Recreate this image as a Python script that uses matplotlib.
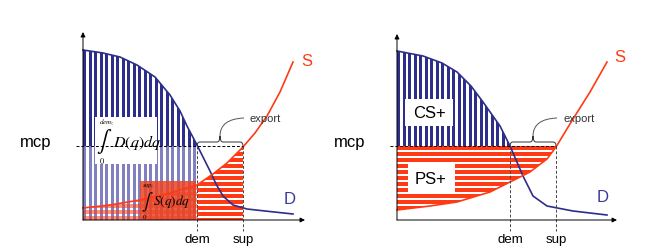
import numpy as np
import matplotlib.pyplot as plt
from matplotlib.patches import Polygon, Rectangle, PathPatch
from matplotlib.path import Path

plt.rcParams['font.family'] = ['Liberation Sans', 'DejaVu Sans']
plt.rcParams['mathtext.fontset'] = 'stix'

NAVY = '#2D2D8C'
LIGHT = '#8080C2'
RED = '#FF3A14'

# curves (offsets from each panel's origin)
l_dq = np.array([0, 20, 37, 54, 72, 87, 97, 104, 114, 121, 127, 133, 140, 150, 164, 182, 210])
l_dp = np.array([170, 167, 163, 155, 143, 125, 109, 94, 75, 61, 49, 36, 24, 15, 11, 9, 6])
l_sq = np.array([0, 27, 57, 87, 114, 130, 144, 160, 172, 184, 197, 210])
l_sp = np.array([12, 15, 20, 27, 35, 46, 57, 73, 87, 104, 128, 158])
l_mcp, l_dem, l_sup = 74, 114, 160

r_dq = np.array([0, 26, 45, 60, 74, 86, 103, 113, 126, 136, 150, 176, 210])
r_dp = np.array([169, 164, 157, 148, 134, 118, 94, 74, 44, 24, 14, 9, 5])
r_sq = np.array([0, 33, 60, 93, 113, 133, 150, 159, 176, 193, 210])
r_sp = np.array([10, 14, 18, 28, 38, 48, 61, 73, 101, 128, 158])
r_mcp, r_dem, r_sup = 74, 113, 159


def region(ax, q, p, x0, x1, base):
    xs = np.concatenate([[x0], q[(q > x0) & (q < x1)], [x1]])
    ys = np.interp(xs, q, p)
    verts = list(zip(xs, ys)) + [(x1, base), (x0, base)]
    return Polygon(verts, closed=True, transform=ax.transData)


def vstripes(ax, clip, x0, x1, color, alpha=1.0):
    xs = np.arange(x0, x1, 5.5)
    bars = ax.bar(xs, 200, bottom=-5, width=3.4, align='edge', color=color,
                  alpha=alpha, linewidth=0)
    for b in bars:
        b.set_clip_path(clip)


def hstripes(ax, clip, x0, x1, top, color, alpha=1.0):
    ys = np.arange(top, -5, -6.0) - 4.0
    bars = ax.barh(ys, x1 - x0, left=x0, height=4.0, align='edge', color=color,
                   alpha=alpha, linewidth=0)
    for b in bars:
        b.set_clip_path(clip)


def brace(ax, x0, x1, y, tx):
    xm = (x0 + x1) / 2
    verts = [(x0, y), (x0, y + 4), (x0 + 3, y + 4), (xm - 3, y + 4), (xm, y + 4), (xm, y + 10),
             (xm, y + 4), (xm + 3, y + 4), (x1 - 3, y + 4), (x1, y + 4), (x1, y)]
    codes = [Path.MOVETO, Path.CURVE3, Path.CURVE3, Path.LINETO, Path.CURVE3, Path.CURVE3,
             Path.CURVE3, Path.CURVE3, Path.LINETO, Path.CURVE3, Path.CURVE3]
    ax.add_patch(PathPatch(Path(verts, codes), fill=False, lw=0.7, ec='#333333'))
    lead = [(xm, y + 10), (xm, y + 27), (tx - 6, y + 28)]
    ax.add_patch(PathPatch(Path(lead, [Path.MOVETO, Path.CURVE3, Path.CURVE3]),
                           fill=False, lw=0.7, ec='#555555'))
    ax.text(tx, y + 28, 'export', fontsize=8, color='#333333', va='center', ha='left')


def frame(ax, xend, yend, mcp, dem, sup):
    ax.annotate('', xy=(xend, 0), xytext=(0, 0),
                arrowprops=dict(arrowstyle='-|>', lw=0.7, color='black',
                                mutation_scale=7, shrinkA=0, shrinkB=0))
    ax.annotate('', xy=(0, yend), xytext=(0, 0),
                arrowprops=dict(arrowstyle='-|>', lw=0.7, color='black',
                                mutation_scale=7, shrinkA=0, shrinkB=0))
    ax.plot([-7, sup], [mcp, mcp], ls=(0, (3, 2)), lw=0.7, color='black')
    ax.plot([dem, dem], [mcp, -11], ls=(0, (3, 2)), lw=0.7, color='#444444')
    ax.plot([sup, sup], [mcp, -11], ls=(0, (3, 2)), lw=0.7, color='#444444')
    ax.text(-47, mcp + 4, 'mcp', fontsize=12, ha='center', va='center')
    ax.text(dem, -19, 'dem', fontsize=9.5, ha='center', va='center')
    ax.text(sup, -19, 'sup', fontsize=9.5, ha='center', va='center')


fig = plt.figure(figsize=(6.57, 2.53), dpi=100)

# ---- left panel
ax = fig.add_axes([0, 0, 0.5, 1])
ax.set_xlim(-83, 245.5)
ax.set_ylim(-32, 221)
ax.axis('off')

clip = Rectangle((0, 0), l_dem, l_mcp, transform=ax.transData)
vstripes(ax, clip, 0, l_dem, LIGHT)
vstripes(ax, region(ax, l_dq, l_dp, 0, l_dem, l_mcp), 0, l_dem, NAVY)
hstripes(ax, region(ax, l_sq, l_sp, 0, l_dem, 0), 0, l_dem, 40, RED, alpha=0.55)
hstripes(ax, region(ax, l_sq, l_sp, l_dem, l_sup, 0), l_dem, l_sup, 80, RED)
ax.add_patch(Rectangle((57, 0), 56, 39, color='#EC4424', alpha=0.85, lw=0))
ax.add_patch(Rectangle((12, 56), 62, 47, color='white', lw=0))

ax.text(21, 79, r'$\int$', fontsize=16, ha='center', va='center')
ax.text(24, 98, r'$dem_z$', fontsize=5, ha='center', va='center')
ax.text(19, 60, r'$0$', fontsize=6, ha='center', va='center')
ax.text(30, 78, r'$D(q)dq$', fontsize=11.5, ha='left', va='center')
ax.text(64, 19, r'$\int$', fontsize=12, ha='center', va='center')
ax.text(65, 35, r'$sup_z$', fontsize=4.5, ha='center', va='center')
ax.text(62, 4, r'$0$', fontsize=5, ha='center', va='center')
ax.text(70, 19, r'$S(q)dq$', fontsize=9.5, ha='left', va='center')

ax.plot(l_dq, l_dp, color=NAVY, lw=1.2)
ax.plot(l_sq, l_sp, color=RED, lw=1.2)
frame(ax, 222, 188, l_mcp, l_dem, l_sup)
brace(ax, l_dem, l_sup, l_mcp, 167)
ax.text(224, 160, 'S', fontsize=12, color=RED, ha='center', va='center')
ax.text(207, 22, 'D', fontsize=12, color='#3A3A9A', ha='center', va='center')

# ---- right panel
ax = fig.add_axes([0.5, 0, 0.5, 1])
ax.set_xlim(-68.5, 260)
ax.set_ylim(-32, 221)
ax.axis('off')

vstripes(ax, region(ax, r_dq, r_dp, 0, r_dem, r_mcp), 0, r_dem, NAVY)
hstripes(ax, region(ax, r_sq, r_sp, 0, r_sup, r_mcp), 0, r_sup, r_mcp + 0.5, RED)
ax.add_patch(Rectangle((8, 94), 48, 27, color='white', lw=0))
ax.add_patch(Rectangle((11, 28), 47, 28, color='white', lw=0))
ax.text(32, 107, 'CS+', fontsize=12, ha='center', va='center')
ax.text(34, 42, 'PS+', fontsize=12, ha='center', va='center')

ax.plot(r_dq, r_dp, color=NAVY, lw=1.2)
ax.plot(r_sq, r_sp, color=RED, lw=1.2)
frame(ax, 220, 186, r_mcp, r_dem, r_sup)
brace(ax, r_dem, r_sup, r_mcp, 166)
ax.text(223, 164, 'S', fontsize=12, color=RED, ha='center', va='center')
ax.text(206, 24, 'D', fontsize=12, color='#3A3A9A', ha='center', va='center')

fig.savefig('out.png', dpi=100, facecolor='white')
